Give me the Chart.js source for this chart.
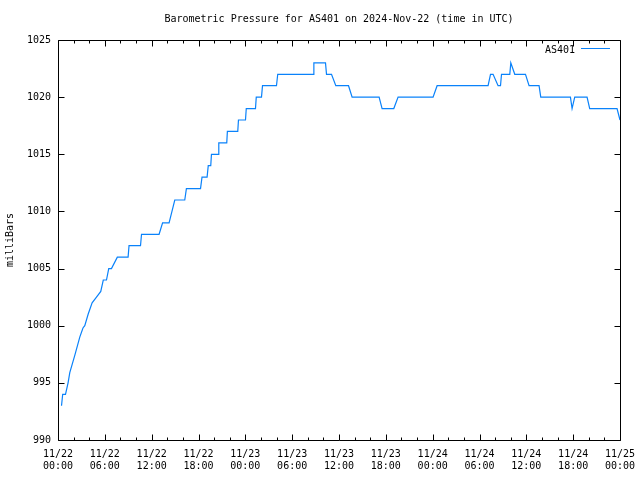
<!DOCTYPE html>
<html>
<head>
<meta charset="utf-8">
<script src="https://cdn.jsdelivr.net/npm/chart.js@4/dist/chart.umd.min.js"></script>
<style>
html,body{margin:0;padding:0;background:#fff;}
canvas{display:block;}
</style>
</head>
<body>
<canvas id="c" width="640" height="480"></canvas>
<script>
// Hours since 2024-11-22 00:00 UTC
const hours = [0.45,0.6,0.96,1.29,1.51,2.15,2.79,3.2,3.43,3.86,4.37,4.93,5.48,5.8,6.21,6.5,6.85,7.6,8.98,9.1,10.57,10.7,12.95,13.4,14.23,14.6,14.96,16.24,16.45,18.26,18.45,19.1,19.25,19.57,19.66,20.51,20.6,21.62,21.7,23.03,23.12,24.02,24.12,25.3,25.4,26.07,26.2,27.99,28.15,32.68,32.78,34.27,34.4,35.04,35.59,37.22,37.68,41.14,41.52,43.02,43.57,48.05,48.57,55.1,55.41,55.74,56.38,56.69,56.82,57.88,58.01,58.52,59.89,60.35,61.63,61.85,65.65,65.86,66.2,67.78,68.12,71.62,72];
const pressure = [993,994,994,995,995.9,997.4,999,999.8,1000,1001,1002,1002.5,1003,1004,1004,1005,1005,1006,1006,1007,1007,1008,1008,1009,1009,1010,1011,1011,1012,1012,1013,1013,1014,1014,1015,1015,1016,1016,1017,1017,1018,1018,1019,1019,1020,1020,1021,1021,1022,1022,1023,1023,1022,1022,1021,1021,1020,1020,1019,1019,1020,1020,1021,1021,1022,1022,1021,1021,1022,1022,1023,1022,1022,1021,1021,1020,1020,1019,1020,1020,1019,1019,1018];
const dayLabels = ['11/22','11/23','11/24','11/25'];
const seriesName = 'AS401';
const chartTitle = 'Barometric Pressure for AS401 on 2024-Nov-22 (time in UTC)';
const yTitle = 'milliBars';

const FONT = '"DejaVu Sans Mono", "Liberation Mono", monospace';
const LINE = 'rgb(10,130,250)';

const points = hours.map((h, i) => ({x: h, y: pressure[i]}));

const gnuplotFrame = {
  id: 'gnuplotFrame',
  afterDraw(chart) {
    const ctx = chart.ctx;
    const a = chart.chartArea;
    const xs = chart.scales.x, ys = chart.scales.y;
    ctx.save();
    ctx.strokeStyle = '#000';
    ctx.lineWidth = 1;
    const L = Math.round(a.left) + 0.5, R = Math.round(a.right) + 0.5;
    const T = Math.round(a.top) + 0.5, B = Math.round(a.bottom) + 0.5;
    ctx.beginPath();
    ctx.rect(L, T, R - L, B - T);
    for (let h = 0; h <= 72; h += 2) {
      const px = Math.round(xs.getPixelForValue(h)) + 0.5;
      const len = (h % 6 === 0) ? 6 : 3;
      ctx.moveTo(px, B); ctx.lineTo(px, B - len);
      ctx.moveTo(px, T); ctx.lineTo(px, T + len);
    }
    for (let v = 990; v <= 1025; v += 5) {
      const py = Math.round(ys.getPixelForValue(v)) + 0.5;
      ctx.moveTo(L, py); ctx.lineTo(L + 6, py);
      ctx.moveTo(R, py); ctx.lineTo(R - 6, py);
    }
    ctx.stroke();

    ctx.fillStyle = '#000';
    ctx.font = '10px ' + FONT;
    ctx.textAlign = 'center';
    ctx.textBaseline = 'middle';
    ctx.fillText(chartTitle, (a.left + a.right) / 2, 19);

    ctx.textAlign = 'right';
    ctx.fillText(seriesName, 575, 50);
    ctx.strokeStyle = LINE;
    ctx.beginPath();
    ctx.moveTo(581, 48.5); ctx.lineTo(610, 48.5);
    ctx.stroke();
    ctx.restore();
  }
};

new Chart(document.getElementById('c'), {
  type: 'line',
  data: {
    datasets: [{
      label: seriesName,
      data: points,
      borderColor: LINE,
      borderWidth: 1.2,
      pointRadius: 0,
      tension: 0,
      fill: false
    }]
  },
  options: {
    responsive: false,
    animation: false,
    devicePixelRatio: 1,
    layout: {padding: {top: 40, right: 20, left: 0, bottom: 0}},
    plugins: {legend: {display: false}, tooltip: {enabled: false}, title: {display: false}},
    scales: {
      x: {
        type: 'linear', min: 0, max: 72,
        grid: {display: false, drawTicks: false},
        border: {display: false},
        ticks: {
          stepSize: 6, autoSkip: false, maxRotation: 0, padding: 8,
          color: '#000',
          font: {family: FONT, size: 10, lineHeight: 1.25},
          callback: (v) => {
            const d = Math.floor(v / 24);
            const hh = String(v % 24).padStart(2, '0');
            return [dayLabels[d], hh + ':00'];
          }
        },
        afterFit: (s) => { s.height = 40; s.paddingLeft = 0; s.paddingRight = 0; }
      },
      y: {
        min: 990, max: 1025,
        grid: {display: false, drawTicks: false},
        border: {display: false},
        ticks: {stepSize: 5, padding: 7, color: '#000', font: {family: FONT, size: 10}, callback: (v) => String(v)},
        title: {display: true, text: yTitle, color: '#000', font: {family: FONT, size: 10}, padding: {top: 4, bottom: 0}},
        afterFit: (s) => { s.width = 58; s.paddingTop = 0; s.paddingBottom = 0; }
      }
    }
  },
  plugins: [gnuplotFrame]
});
</script>
</body>
</html>
